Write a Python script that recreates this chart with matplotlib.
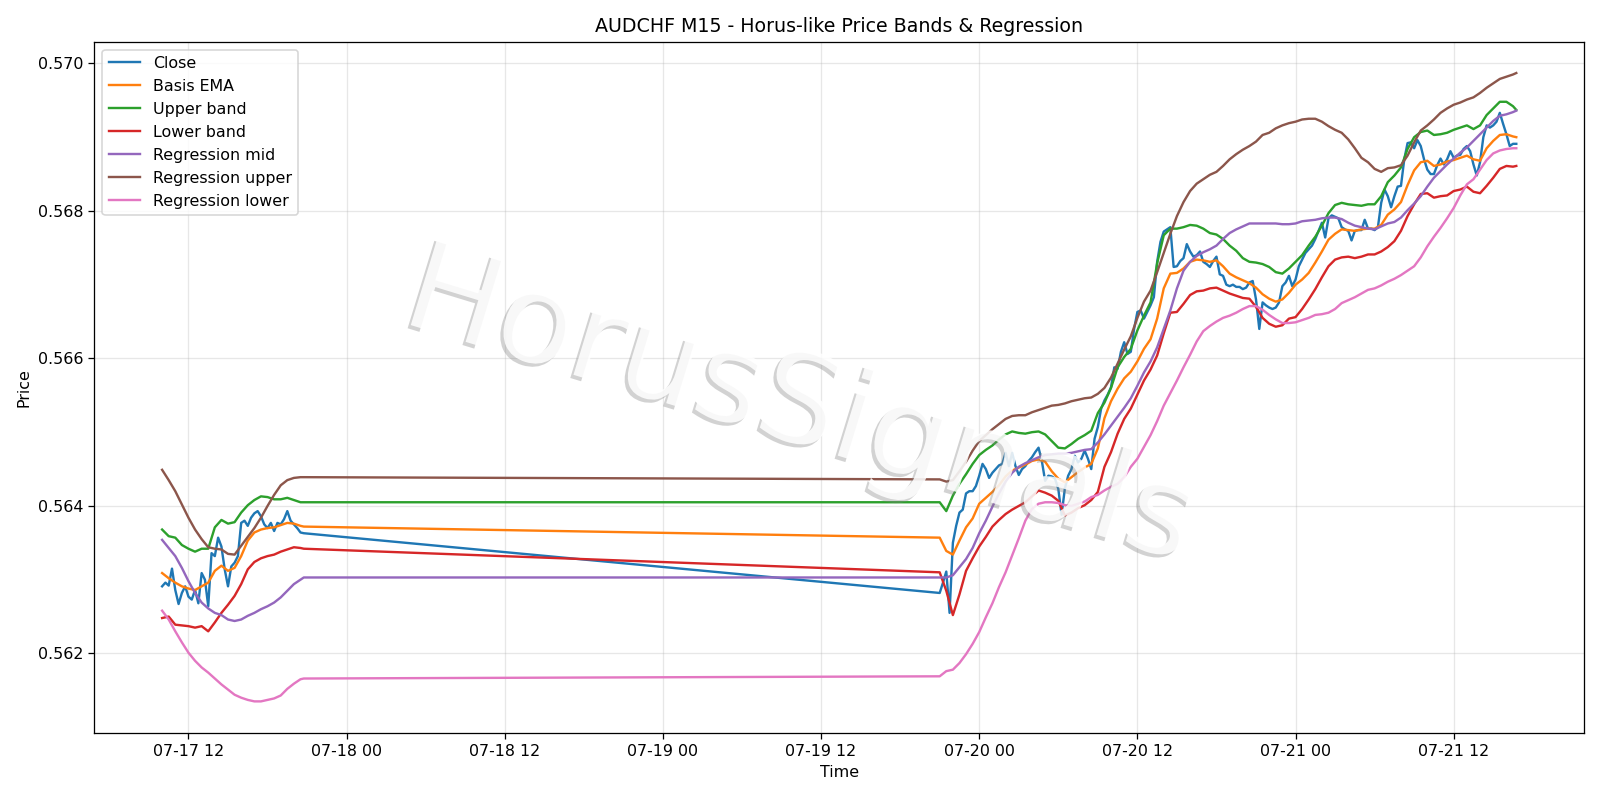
import matplotlib
matplotlib.use("Agg")
import matplotlib.pyplot as plt
import matplotlib.patheffects as pe
import pandas as pd

# --- close prices, 15 min bars (two sessions) ---
close_s1 = [0.56291, 0.56296, 0.56292, 0.56315, 0.56286, 0.56267, 0.56282, 0.56291, 0.56277, 0.56273,
            0.56286, 0.56268, 0.56309, 0.56300, 0.56264, 0.56336, 0.56332, 0.56357, 0.56345, 0.56314,
            0.56291, 0.56318, 0.56323, 0.56332, 0.56377, 0.56380, 0.56373, 0.56384, 0.56390, 0.56393,
            0.56386, 0.56375, 0.56370, 0.56377, 0.56366, 0.56377, 0.56375, 0.56382, 0.56393, 0.56380,
            0.56375, 0.56370, 0.56364, 0.56363]
close_s2 = [0.56282, 0.56296, 0.56311, 0.56255, 0.56350, 0.56373, 0.56391, 0.56395,
            0.56417, 0.56420, 0.56420, 0.56427, 0.56441, 0.56457, 0.56450, 0.56438,
            0.56445, 0.56450, 0.56455, 0.56457, 0.56472, 0.56454, 0.56472, 0.56454,
            0.56442, 0.56450, 0.56454, 0.56461, 0.56466, 0.56473, 0.56479, 0.56461,
            0.56434, 0.56441, 0.56440, 0.56437, 0.56423, 0.56388, 0.56424, 0.56441,
            0.56450, 0.56468, 0.56459, 0.56464, 0.56475, 0.56464, 0.56450, 0.56491,
            0.56507, 0.56532, 0.56543, 0.56551, 0.56561, 0.56588, 0.56586, 0.56609,
            0.56622, 0.56606, 0.56609, 0.56640, 0.56663, 0.56665, 0.56654, 0.56663,
            0.56672, 0.56683, 0.56731, 0.56758, 0.56772, 0.56775, 0.56778, 0.56724,
            0.56725, 0.56732, 0.56736, 0.56755, 0.56745, 0.56738, 0.56740, 0.56745,
            0.56731, 0.56728, 0.56724, 0.56732, 0.56738, 0.56714, 0.56712, 0.56700,
            0.56698, 0.56700, 0.56697, 0.56697, 0.56694, 0.56696, 0.56703, 0.56705,
            0.56680, 0.56640, 0.56676, 0.56672, 0.56669, 0.56667, 0.56669, 0.56676,
            0.56698, 0.56703, 0.56712, 0.56698, 0.56707, 0.56725, 0.56734, 0.56743,
            0.56748, 0.56753, 0.56762, 0.56773, 0.56784, 0.56764, 0.56790, 0.56794,
            0.56792, 0.56790, 0.56778, 0.56775, 0.56773, 0.56760, 0.56773, 0.56774,
            0.56774, 0.56788, 0.56776, 0.56776, 0.56774, 0.56778, 0.56811, 0.56829,
            0.56820, 0.56805, 0.56820, 0.56833, 0.56834, 0.56870, 0.56892, 0.56893,
            0.56885, 0.56896, 0.56888, 0.56870, 0.56856, 0.56850, 0.56850, 0.56862,
            0.56871, 0.56863, 0.56870, 0.56881, 0.56872, 0.56875, 0.56876, 0.56884,
            0.56888, 0.56881, 0.56863, 0.56848, 0.56866, 0.56900, 0.56916, 0.56913,
            0.56916, 0.56921, 0.56933, 0.56918, 0.56904, 0.56888, 0.56891, 0.56891]

# --- bands / regression, read every 30 min (+ last bar of each session) ---
ema_s1 = [0.56309, 0.56302, 0.56296, 0.56291, 0.56288, 0.56286, 0.56291, 0.56296, 0.56312, 0.56319,
          0.56312, 0.56316, 0.56332, 0.56353, 0.56364, 0.56368, 0.56370, 0.56371, 0.56374, 0.56377,
          0.56376, 0.56373, 0.56372]
ema_s2 = [0.56357, 0.56339, 0.56334, 0.56353, 0.56371, 0.56383, 0.56403, 0.56411,
          0.56419, 0.56428, 0.56440, 0.56448, 0.56452, 0.56456, 0.56461, 0.56463,
          0.56460, 0.56447, 0.56437, 0.56432, 0.56439, 0.56446, 0.56452, 0.56457,
          0.56478, 0.56519, 0.56542, 0.56559, 0.56573, 0.56582, 0.56596, 0.56613,
          0.56626, 0.56654, 0.56695, 0.56715, 0.56716, 0.56722, 0.56731, 0.56734,
          0.56733, 0.56731, 0.56733, 0.56725, 0.56715, 0.56710, 0.56706, 0.56702,
          0.56696, 0.56687, 0.56681, 0.56677, 0.56680, 0.56689, 0.56700, 0.56707,
          0.56716, 0.56730, 0.56745, 0.56761, 0.56769, 0.56775, 0.56774, 0.56773,
          0.56775, 0.56776, 0.56776, 0.56781, 0.56795, 0.56802, 0.56812, 0.56835,
          0.56855, 0.56866, 0.56868, 0.56861, 0.56863, 0.56867, 0.56869, 0.56872,
          0.56875, 0.56870, 0.56868, 0.56885, 0.56895, 0.56903, 0.56904, 0.56901,
          0.56900]

upper_s1 = [0.56368, 0.56359, 0.56357, 0.56347, 0.56342, 0.56338, 0.56342, 0.56342, 0.56371, 0.56381,
            0.56376, 0.56378, 0.56391, 0.56401, 0.56408, 0.56413, 0.56412, 0.56409, 0.56409, 0.56411,
            0.56408, 0.56405, 0.56405]
upper_s2 = [0.56405, 0.56393, 0.56414, 0.56430, 0.56443, 0.56457, 0.56469, 0.56476,
            0.56482, 0.56490, 0.56497, 0.56501, 0.56499, 0.56498, 0.56500, 0.56501,
            0.56497, 0.56488, 0.56479, 0.56478, 0.56484, 0.56491, 0.56496, 0.56502,
            0.56526, 0.56540, 0.56560, 0.56588, 0.56602, 0.56613, 0.56638, 0.56658,
            0.56676, 0.56729, 0.56767, 0.56776, 0.56776, 0.56778, 0.56781, 0.56780,
            0.56776, 0.56770, 0.56768, 0.56762, 0.56753, 0.56746, 0.56736, 0.56731,
            0.56730, 0.56728, 0.56724, 0.56717, 0.56715, 0.56722, 0.56731, 0.56740,
            0.56753, 0.56765, 0.56780, 0.56797, 0.56808, 0.56811, 0.56809, 0.56808,
            0.56807, 0.56809, 0.56809, 0.56820, 0.56839, 0.56848, 0.56859, 0.56884,
            0.56900, 0.56907, 0.56909, 0.56903, 0.56904, 0.56906, 0.56910, 0.56913,
            0.56916, 0.56911, 0.56916, 0.56930, 0.56939, 0.56948, 0.56948, 0.56942,
            0.56937]

lower_s1 = [0.56248, 0.56250, 0.56239, 0.56238, 0.56237, 0.56235, 0.56237, 0.56230, 0.56242, 0.56255,
            0.56266, 0.56278, 0.56294, 0.56314, 0.56324, 0.56329, 0.56332, 0.56334, 0.56338, 0.56341,
            0.56344, 0.56343, 0.56342]
lower_s2 = [0.56310, 0.56285, 0.56252, 0.56280, 0.56312, 0.56329, 0.56345, 0.56358,
            0.56372, 0.56381, 0.56389, 0.56395, 0.56400, 0.56405, 0.56413, 0.56421,
            0.56418, 0.56414, 0.56407, 0.56387, 0.56391, 0.56397, 0.56401, 0.56408,
            0.56419, 0.56453, 0.56473, 0.56498, 0.56518, 0.56532, 0.56551, 0.56570,
            0.56585, 0.56604, 0.56634, 0.56662, 0.56663, 0.56674, 0.56686, 0.56691,
            0.56692, 0.56695, 0.56696, 0.56692, 0.56688, 0.56685, 0.56682, 0.56681,
            0.56670, 0.56655, 0.56647, 0.56643, 0.56645, 0.56654, 0.56656, 0.56667,
            0.56680, 0.56694, 0.56710, 0.56725, 0.56734, 0.56737, 0.56738, 0.56736,
            0.56738, 0.56741, 0.56741, 0.56745, 0.56751, 0.56759, 0.56773, 0.56793,
            0.56809, 0.56823, 0.56824, 0.56818, 0.56820, 0.56821, 0.56827, 0.56829,
            0.56833, 0.56826, 0.56824, 0.56834, 0.56845, 0.56857, 0.56861, 0.56860,
            0.56861]

reg_mid_s1 = [0.56354, 0.56343, 0.56332, 0.56316, 0.56298, 0.56282, 0.56269, 0.56261, 0.56255, 0.56252,
              0.56246, 0.56244, 0.56246, 0.56251, 0.56255, 0.56260, 0.56264, 0.56269, 0.56276, 0.56285,
              0.56294, 0.56300, 0.56303]
reg_mid_s2 = [0.56303, 0.56303, 0.56306, 0.56317, 0.56328, 0.56343, 0.56363, 0.56380,
              0.56399, 0.56417, 0.56433, 0.56445, 0.56453, 0.56458, 0.56462, 0.56466,
              0.56469, 0.56470, 0.56471, 0.56471, 0.56472, 0.56474, 0.56476, 0.56477,
              0.56486, 0.56497, 0.56509, 0.56521, 0.56533, 0.56546, 0.56563, 0.56581,
              0.56596, 0.56615, 0.56640, 0.56665, 0.56695, 0.56719, 0.56731, 0.56739,
              0.56744, 0.56748, 0.56753, 0.56762, 0.56770, 0.56775, 0.56779, 0.56783,
              0.56783, 0.56783, 0.56783, 0.56783, 0.56782, 0.56782, 0.56783, 0.56786,
              0.56787, 0.56788, 0.56790, 0.56791, 0.56791, 0.56789, 0.56784, 0.56780,
              0.56778, 0.56776, 0.56775, 0.56779, 0.56783, 0.56785, 0.56791, 0.56801,
              0.56810, 0.56820, 0.56833, 0.56845, 0.56854, 0.56863, 0.56871, 0.56879,
              0.56886, 0.56895, 0.56904, 0.56913, 0.56922, 0.56929, 0.56931, 0.56934,
              0.56936]

reg_up_s1 = [0.56449, 0.56435, 0.56420, 0.56402, 0.56384, 0.56368, 0.56355, 0.56344, 0.56342, 0.56341,
             0.56335, 0.56334, 0.56346, 0.56358, 0.56370, 0.56384, 0.56400, 0.56415, 0.56428, 0.56435,
             0.56438, 0.56439, 0.56439]
reg_up_s2 = [0.56436, 0.56433, 0.56435, 0.56447, 0.56460, 0.56475, 0.56488, 0.56496,
             0.56504, 0.56511, 0.56518, 0.56522, 0.56523, 0.56523, 0.56527, 0.56530,
             0.56533, 0.56536, 0.56537, 0.56539, 0.56542, 0.56544, 0.56546, 0.56547,
             0.56552, 0.56560, 0.56574, 0.56593, 0.56612, 0.56630, 0.56655, 0.56677,
             0.56692, 0.56717, 0.56743, 0.56769, 0.56793, 0.56812, 0.56827, 0.56837,
             0.56843, 0.56849, 0.56853, 0.56861, 0.56870, 0.56877, 0.56883, 0.56888,
             0.56894, 0.56903, 0.56906, 0.56912, 0.56916, 0.56919, 0.56921, 0.56924,
             0.56925, 0.56925, 0.56921, 0.56915, 0.56910, 0.56906, 0.56897, 0.56885,
             0.56872, 0.56866, 0.56857, 0.56853, 0.56858, 0.56859, 0.56862, 0.56875,
             0.56893, 0.56909, 0.56916, 0.56924, 0.56933, 0.56939, 0.56944, 0.56947,
             0.56951, 0.56954, 0.56960, 0.56967, 0.56973, 0.56979, 0.56982, 0.56985,
             0.56987]

reg_lo_s1 = [0.56258, 0.56246, 0.56230, 0.56215, 0.56201, 0.56190, 0.56181, 0.56174, 0.56166, 0.56158,
             0.56151, 0.56144, 0.56140, 0.56137, 0.56135, 0.56135, 0.56137, 0.56139, 0.56143, 0.56152,
             0.56159, 0.56165, 0.56166]
reg_lo_s2 = [0.56169, 0.56176, 0.56178, 0.56187, 0.56199, 0.56213, 0.56229, 0.56249,
             0.56268, 0.56290, 0.56310, 0.56333, 0.56356, 0.56380, 0.56396, 0.56403,
             0.56405, 0.56405, 0.56404, 0.56401, 0.56400, 0.56403, 0.56406, 0.56412,
             0.56415, 0.56421, 0.56426, 0.56430, 0.56439, 0.56453, 0.56464, 0.56480,
             0.56496, 0.56515, 0.56536, 0.56553, 0.56570, 0.56588, 0.56605, 0.56623,
             0.56637, 0.56644, 0.56650, 0.56655, 0.56658, 0.56662, 0.56667, 0.56671,
             0.56671, 0.56666, 0.56659, 0.56653, 0.56648, 0.56648, 0.56649, 0.56652,
             0.56655, 0.56659, 0.56660, 0.56662, 0.56667, 0.56675, 0.56679, 0.56683,
             0.56688, 0.56693, 0.56695, 0.56699, 0.56704, 0.56708, 0.56713, 0.56719,
             0.56725, 0.56737, 0.56752, 0.56765, 0.56777, 0.56790, 0.56804, 0.56821,
             0.56836, 0.56843, 0.56856, 0.56869, 0.56878, 0.56882, 0.56884, 0.56885,
             0.56885]

# timestamps
t_close = list(pd.date_range("2025-07-17 10:00", periods=len(close_s1), freq="15min")) + \
          list(pd.date_range("2025-07-19 21:00", periods=len(close_s2), freq="15min"))
t_band = list(pd.date_range("2025-07-17 10:00", periods=22, freq="30min")) + [pd.Timestamp("2025-07-17 20:45")] + \
         list(pd.date_range("2025-07-19 21:00", periods=88, freq="30min")) + [pd.Timestamp("2025-07-21 16:45")]

series = [
    ("Close", t_close, close_s1 + close_s2),
    ("Basis EMA", t_band, ema_s1 + ema_s2),
    ("Upper band", t_band, upper_s1 + upper_s2),
    ("Lower band", t_band, lower_s1 + lower_s2),
    ("Regression mid", t_band, reg_mid_s1 + reg_mid_s2),
    ("Regression upper", t_band, reg_up_s1 + reg_up_s2),
    ("Regression lower", t_band, reg_lo_s1 + reg_lo_s2),
]

DPI = 1600 / 14
fig, ax = plt.subplots(figsize=(14, 7), dpi=DPI)
fig.subplots_adjust(left=0.059, right=0.99, bottom=0.084, top=0.948)

for name, t, v in series:
    ax.plot(t, v, label=name, lw=1.5)

ax.set_title("AUDCHF M15 - Horus-like Price Bands & Regression")
ax.set_xlabel("Time")
ax.set_ylabel("Price")
ax.grid(True, alpha=0.3)
ax.legend(loc="upper left")

# watermark
fig.text(0.5, 0.49, "HorusSignals", fontsize=79, color="white", alpha=0.85,
         rotation=-17, ha="center", va="center",
         path_effects=[pe.withSimplePatchShadow(offset=(-2, -2), shadow_rgbFace="gray", alpha=0.35)])

fig.savefig("out.png", dpi=DPI)
